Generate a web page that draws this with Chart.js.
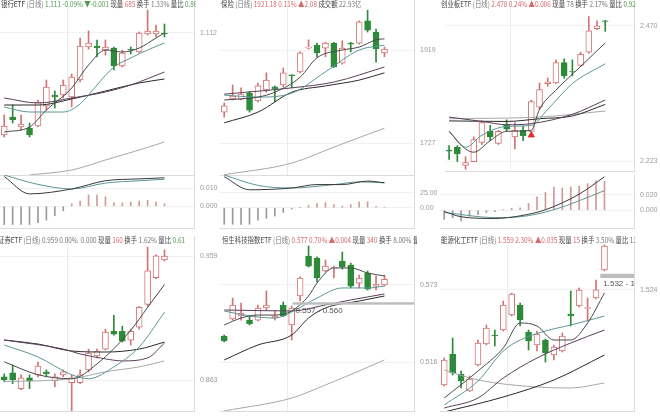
<!DOCTYPE html>
<html>
<head>
<meta charset="utf-8">
<script src="https://cdn.jsdelivr.net/npm/chart.js@4.4.0/dist/chart.umd.min.js"></script>
<style>
body { margin: 0; width: 660px; height: 416px; background: #fff; position: relative; overflow: hidden; font-family: 'Noto Sans CJK SC', sans-serif; }
canvas { position: absolute; }
.title { position: absolute; width: 195px; height: 12px; line-height: 12px; font-size: 8px; overflow: hidden; white-space: nowrap; z-index: 5; }
.title > span { display: inline-block; transform: scaleX(0.8); transform-origin: 0 0; color: #444; }
.n { color: #333; } .g { color: #777; } .r { color: #d46a6a; } .d { color: #4e9a4e; }
</style>
</head>
<body>
<div class="title" style="left:1px;top:-2px"><span><b class="n" style="font-weight:normal">银行ETF</b> <i class="g" style="font-style:normal">(日线)</i> <span class="d">1.111 -0.09%</span> <span class="d">▼-0.001</span> 现量 <span class="r">685</span> 换手 <span class="g">1.33%</span> 量比 <span class="d">0.86</span></span></div>
<div class="title" style="left:221px;top:-2px"><span>保险 <i class="g" style="font-style:normal">(日线)</i> <span class="r">1921.18 0.11%</span> <span class="r">▲2.08</span> 成交额 <span class="g">22.93亿</span></span></div>
<div class="title" style="left:441px;top:-2px"><span>创业板ETF <i class="g" style="font-style:normal">(日线)</i> <span class="r">2.478 0.24%</span> <span class="r">▲0.006</span> 现量 <span class="g">78</span> 换手 <span class="g">2.17%</span> 量比 <span class="d">0.92</span></span></div>
<div class="title" style="left:-2px;top:234px"><span>证券ETF <i class="g" style="font-style:normal">(日线)</i> <span class="g">0.959 0.00%</span> &nbsp;<span class="g">0.000</span> 现量 <span class="r">160</span> 换手 <span class="g">1.62%</span> 量比 <span class="d">0.61</span></span></div>
<div class="title" style="left:222px;top:234px"><span>恒生科技指数ETF <i class="g" style="font-style:normal">(日线)</i> <span class="r">0.577 0.70%</span> <span class="r">▲0.004</span> 现量 <span class="r">340</span> 换手 <span class="g">8.00%</span> 量比</span></div>
<div class="title" style="left:441px;top:234px"><span>能源化工ETF <i class="g" style="font-style:normal">(日线)</i> <span class="r">1.559 2.30%</span> <span class="r">▲0.035</span> 现量 <span class="r">15</span> 换手 <span class="g">3.50%</span> 量比 <span class="g">1.2</span></span></div>

<canvas id="m1" width="220" height="176" style="left:0;top:0"></canvas>
<canvas id="m2" width="220" height="176" style="left:220px;top:0"></canvas>
<canvas id="m3" width="220" height="176" style="left:440px;top:0"></canvas>
<canvas id="s1" width="220" height="62" style="left:0;top:175px"></canvas>
<canvas id="s2" width="220" height="62" style="left:220px;top:175px"></canvas>
<canvas id="s3" width="220" height="62" style="left:440px;top:175px"></canvas>
<canvas id="m4" width="220" height="176" style="left:0;top:236px"></canvas>
<canvas id="m5" width="220" height="176" style="left:220px;top:236px"></canvas>
<canvas id="m6" width="220" height="176" style="left:440px;top:236px"></canvas>

<script>
// 23 slots on the x axis, the last 3 stay empty
const slots = Array.from({length: 23}, (_, i) => i);

// 银行ETF
const bankO = [1.010,1.028,1.018,1.017,1.019,1.039,1.050,1.050,1.048,1.065,1.098,1.099,1.095,1.097,1.079,1.096,1.093,1.111,1.111,1.112];
const bankH = [1.030,1.040,1.030,1.022,1.045,1.065,1.054,1.065,1.071,1.107,1.114,1.105,1.105,1.098,1.095,1.098,1.113,1.135,1.120,1.121];
const bankL = [1.008,1.022,1.015,1.008,1.018,1.035,1.037,1.047,1.038,1.063,1.096,1.088,1.090,1.075,1.078,1.091,1.092,1.110,1.108,1.108];
const bankC = [1.019,1.025,1.021,1.010,1.043,1.058,1.048,1.060,1.068,1.099,1.102,1.097,1.098,1.079,1.092,1.095,1.112,1.114,1.114,1.111];
const bankMA5 = [[0,1.013],[3,1.018],[5,1.035],[8,1.057],[10,1.080],[12,1.095],[14,1.093],[16,1.097],[18,1.107],[19,1.112]];
const bankMA10 = [[0,1.038],[3,1.033],[7,1.033],[9,1.041],[11,1.060],[13,1.078],[15,1.087],[17,1.095],[19,1.102]];
const bankMA20 = [[0,1.047],[4,1.042],[8,1.047],[12,1.053],[15,1.060],[19,1.073]];
const bankMA30 = [[0,1.040],[4,1.040],[8,1.046],[12,1.054],[16,1.062],[19,1.066]];
const bankMA60 = [[3,0.970],[8,0.975],[12,0.985],[16,0.995],[19,1.003]];
const bankDif = [[0,0.0163],[3,0.0068],[8,0.0095],[12,0.0140],[16,0.0150],[19,0.0156]];
const bankDea = [[0,0.0171],[4,0.0120],[8,0.0095],[12,0.0127],[16,0.0140],[19,0.0148]];
const bankHist = [-0.0100,-0.0100,-0.0100,-0.0100,-0.0090,-0.0076,-0.0052,-0.0024,0.0014,0.0029,0.0062,0.0062,0.0052,0.0019,0.0019,0.0024,0.0029,0.0033,0.0024,0.0014];

// 保险
const insO = [1791,1818,1818,1830,1814,1837,1843,1847,1868,1874,1923,1929,1923,1933,1892,1933,1933,1979,1956,1913];
const insH = [1810,1847,1841,1834,1851,1872,1845,1882,1868,1915,1940,1933,1935,1935,1938,1935,1979,2001,1962,1925];
const insL = [1781,1816,1816,1791,1812,1832,1812,1843,1841,1872,1921,1905,1905,1883,1890,1915,1931,1956,1894,1905];
const insC = [1804,1824,1828,1795,1845,1857,1839,1872,1866,1913,1925,1913,1933,1884,1923,1931,1977,1960,1921,1921];
const insMA5 = [[0,1816],[4,1822],[6,1832],[9,1863],[11,1903],[14,1919],[16,1925],[18,1940],[19,1942]];
const insMA10 = [[0,1826],[4,1822],[8,1830],[12,1874],[16,1919],[19,1929]];
const insMA20 = [[0,1828],[8,1841],[13,1853],[19,1884]];
const insMA30 = [[0,1769],[4,1791],[8,1832],[12,1845],[16,1857],[19,1872]];
const insMA60 = [[0,1662],[8,1686],[13,1719],[19,1758]];
const insDif = [[0,52.5],[3,30.4],[8,33.4],[11,39.2],[14,39.2],[17,45.1],[19,42.2]];
const insDea = [[0,55.4],[4,37.8],[8,33.4],[13,39.2],[16,43.7],[19,42.2]];
const insHist = [-28,-28,-28,-28,-21,-18,-14,-8,-2,0.5,4,7,9,5.4,2.5,5.4,10,10,2.5,1];

// 创业板ETF
const cyO = [2.244,2.249,2.216,2.223,2.258,2.278,2.256,2.289,2.268,2.280,2.278,2.322,2.365,2.366,2.403,2.387,2.398,2.422,2.465,2.479];
const cyH = [2.252,2.252,2.232,2.268,2.297,2.289,2.280,2.299,2.294,2.287,2.335,2.366,2.375,2.408,2.410,2.408,2.422,2.487,2.479,2.480];
const cyL = [2.227,2.223,2.209,2.223,2.254,2.261,2.254,2.278,2.246,2.261,2.275,2.318,2.360,2.365,2.375,2.379,2.396,2.420,2.463,2.460];
const cyC = [2.242,2.237,2.221,2.263,2.294,2.268,2.278,2.282,2.280,2.270,2.332,2.354,2.368,2.403,2.379,2.386,2.418,2.461,2.470,2.478];
const cyMA5 = [[0,2.278],[2,2.246],[3,2.240],[5,2.261],[7,2.278],[10,2.280],[11,2.318],[13,2.353],[16,2.396],[19,2.439]];
const cyMA10 = [[0,2.278],[2,2.249],[4,2.271],[7,2.287],[10,2.289],[12,2.318],[15,2.365],[19,2.401]];
const cyMA20 = [[0,2.304],[4,2.296],[7,2.290],[10,2.292],[15,2.309],[19,2.335]];
const cyMA30 = [[0,2.297],[7,2.296],[11,2.301],[15,2.306],[19,2.327]];
const cyMA60 = [[0,2.301],[11,2.304],[19,2.315]];
const cyMark = [[10,2.271]];
const cyDif = [[0,-0.0017],[2,-0.0086],[6,-0.0109],[9,-0.0074],[12,0.0006],[16,0.0211],[19,0.0440]];
const cyDea = [[0,-0.0029],[6,-0.0097],[9,-0.0086],[13,0.0006],[19,0.0257]];
const cyHist = [-0.012,-0.010,-0.014,-0.008,-0.006,-0.003,-0.002,0.0005,0.0025,0.003,0.0089,0.0177,0.0234,0.0303,0.0291,0.0303,0.0318,0.0349,0.0386,0.0379];

// 证券ETF
const zqO = [0.8655,0.8686,0.8563,0.8647,0.8670,0.8693,0.8624,0.8670,0.8609,0.8609,0.8709,0.8816,0.8870,0.9008,0.9008,0.8939,0.9039,0.9216,0.9423,0.9561];
const zqH = [0.8678,0.8747,0.8670,0.8670,0.8770,0.8709,0.8678,0.8709,0.8670,0.8709,0.8870,0.8870,0.9024,0.9131,0.9047,0.9024,0.9200,0.9661,0.9600,0.9638];
const zqL = [0.8617,0.8601,0.8555,0.8563,0.8655,0.8655,0.8578,0.8655,0.8386,0.8601,0.8693,0.8801,0.8862,0.8978,0.8924,0.8901,0.9024,0.9200,0.9415,0.9553];
const zqC = [0.8632,0.8632,0.8647,0.8624,0.8739,0.8678,0.8655,0.8693,0.8647,0.8670,0.8839,0.8855,0.9001,0.8985,0.8932,0.9008,0.9193,0.9477,0.9592,0.9590];
const zqMA5 = [[0,0.8771],[4,0.8671],[8,0.8640],[11,0.8755],[15,0.9016],[17,0.9193],[19,0.9370]];
const zqMA10 = [[0,0.8901],[4,0.8809],[8,0.8671],[10,0.8640],[13,0.8732],[16,0.8886],[19,0.9155]];
const zqMA20 = [[0,0.8940],[7,0.8870],[9,0.8832],[12,0.8794],[14,0.8778],[17,0.8801],[19,0.8917]];
const zqMA30 = [[0,0.8940],[4,0.8909],[8,0.8855],[12,0.8847],[16,0.8870],[19,0.8924]];
const zqMA60 = [[0,0.8617],[8,0.8640],[12,0.8694],[16,0.8732],[19,0.8778]];

// 恒生科技指数ETF
const hkO = [0.5353,0.5478,0.5500,0.5470,0.5470,0.5559,0.5485,0.5581,0.5434,0.5647,0.5941,0.5926,0.5831,0.5853,0.5904,0.5875,0.5742,0.5816,0.5720,0.5728];
const hkH = [0.5360,0.5632,0.5595,0.5500,0.5581,0.5684,0.5537,0.5603,0.5573,0.5787,0.6014,0.5934,0.5912,0.5867,0.5970,0.5889,0.5801,0.5831,0.5794,0.5801];
const hkL = [0.5310,0.5470,0.5470,0.5434,0.5463,0.5544,0.5470,0.5495,0.5323,0.5610,0.5860,0.5750,0.5823,0.5779,0.5845,0.5706,0.5706,0.5691,0.5691,0.5720];
const hkC = [0.5316,0.5581,0.5522,0.5441,0.5559,0.5581,0.5500,0.5500,0.5559,0.5779,0.5867,0.5779,0.5867,0.5860,0.5860,0.5720,0.5779,0.5698,0.5735,0.5770];
const hkMA5 = [[0,0.5434],[2,0.5485],[4,0.5507],[6,0.5507],[8,0.5537],[10,0.5647],[11,0.5742],[13,0.5853],[15,0.5853],[17,0.5816],[19,0.5794]];
const hkMA10 = [[0,0.5537],[3,0.5500],[6,0.5485],[8,0.5529],[11,0.5632],[14,0.5706],[17,0.5706],[19,0.5720]];
const hkMA20 = [[0,0.5544],[8,0.5537],[12,0.5581],[15,0.5618],[19,0.5662]];
const hkMA30 = [[0,0.5177],[4,0.5287],[8,0.5360],[10,0.5485],[12,0.5559],[16,0.5610],[19,0.5647]];
const hkMA60 = [[0,0.4802],[8,0.4897],[12,0.4993],[16,0.5096],[19,0.5177]];
const hkBand = [0.5583, 0.5601];

// 能源化工ETF
const nyO = [1.4478,1.4726,1.4566,1.4430,1.4638,1.4806,1.4878,1.4918,1.5038,1.5118,1.4902,1.4798,1.4838,1.4718,1.4750,1.5046,1.5110,1.5090,1.5174,1.5398];
const nyH = [1.4694,1.4854,1.4590,1.4550,1.4838,1.4958,1.4918,1.5150,1.5214,1.5134,1.4918,1.4910,1.4846,1.4798,1.4894,1.5230,1.5254,1.5174,1.5318,1.5598];
const nyL = [1.4470,1.4558,1.4454,1.4426,1.4630,1.4798,1.4790,1.4910,1.5030,1.4950,1.4758,1.4750,1.4662,1.4678,1.4742,1.4950,1.5102,1.4990,1.5166,1.5390];
const nyC = [1.4678,1.4574,1.4510,1.4526,1.4814,1.4934,1.4870,1.5118,1.5206,1.4998,1.4830,1.4886,1.4734,1.4782,1.4870,1.5030,1.5238,1.5098,1.5240,1.5590];
const nyMA5 = [[0,1.4374],[4,1.4590],[7,1.4774],[9,1.4974],[11,1.4950],[13,1.4838],[15,1.4838],[17,1.4974],[19,1.5214]];
const nyMA10 = [[0,1.4318],[4,1.4510],[7,1.4750],[9,1.4838],[12,1.4910],[15,1.4958],[19,1.5030]];
const nyMA20 = [[0,1.4294],[4,1.4374],[7,1.4534],[11,1.4694],[15,1.4814],[19,1.4918]];
const nyMA30 = [[0,1.4262],[7,1.4382],[13,1.4518],[19,1.4718]];
const nyMA60 = [[0,1.4598],[4,1.4518],[11,1.4462],[15,1.4454],[19,1.4494]];
const nyBand = [1.5334, 1.5368];

const upColor = '#d27474';
const downColor = '#2d8a3a';
const maColors = ['#4a4a4a', '#5d9696', '#5a3f5a', '#2b2b2b', '#a8a8a8'];
const tickFont = { family: "'Liberation Sans Narrow', 'Liberation Sans', sans-serif", size: 7 };

const toPoints = pairs => pairs.map(([x, y]) => ({ x, y }));

// gray price band with its range text
const bandPlugin = {
    id: 'band',
    afterDatasetsDraw(chart, args, opts) {
        if (!opts.range) return;
        const { ctx, chartArea: a, scales: { x, y } } = chart;
        const x0 = x.getPixelForValue(opts.start);
        const yTop = y.getPixelForValue(opts.range[1]);
        const yBot = y.getPixelForValue(opts.range[0]);
        ctx.save();
        ctx.beginPath();
        ctx.rect(a.left, a.top, a.width, a.height);
        ctx.clip();
        ctx.fillStyle = '#bdbdbd';
        ctx.fillRect(x0, yTop, a.right - x0, yBot - yTop);
        ctx.fillStyle = '#555';
        ctx.font = "8px 'Liberation Sans Narrow', 'Liberation Sans', sans-serif";
        ctx.textBaseline = 'top';
        ctx.fillText(opts.text, x0 + 3, yBot + 2);
        ctx.restore();
    }
};

function yAxis(min, max, ticks, digits) {
    return {
        position: 'right',
        min: min,
        max: max,
        afterBuildTicks: ax => { ax.ticks = ticks.map(v => ({ value: v })); },
        afterFit: ax => { ax.width = 26; ax.paddingTop = 0; ax.paddingBottom = 0; },
        ticks: { font: tickFont, color: '#9a9a9a', padding: 6, callback: v => Number(v).toFixed(digits) },
        grid: { color: '#f1f1f1', drawTicks: false },
        border: { color: '#dcdcdc' }
    };
}

function candleChart(id, o, h, l, c, mas, min, max, ticks, digits, extra) {
    extra = extra || {};
    const up = c.map((v, i) => v >= o[i]);
    const datasets = [];
    mas.forEach((pts, k) => {
        datasets.push({
            type: 'line', data: toPoints(pts), borderColor: maColors[k], borderWidth: 1,
            pointRadius: 0, cubicInterpolationMode: 'monotone', order: 0
        });
    });
    datasets.push({
        type: 'bar', data: o.map((v, i) => [v, c[i]]),
        backgroundColor: up.map(u => u ? '#ffffff' : downColor),
        borderColor: up.map(u => u ? upColor : downColor),
        borderWidth: 1, borderSkipped: false, barThickness: 6, grouped: false, order: 1
    });
    datasets.push({
        type: 'bar', data: l.map((v, i) => [v, h[i]]),
        backgroundColor: up.map(u => u ? upColor : downColor),
        barThickness: 1, grouped: false, order: 2
    });
    if (extra.mark) {
        datasets.push({
            type: 'line', data: toPoints(extra.mark), showLine: false, pointStyle: 'triangle',
            pointRadius: 3.5, backgroundColor: '#e03030', borderColor: '#e03030', order: -1
        });
    }
    return new Chart(document.getElementById(id), {
        type: 'bar',
        data: { labels: slots, datasets: datasets },
        plugins: [bandPlugin],
        options: {
            responsive: false, animation: false, events: [],
            layout: { padding: { bottom: 1 } },
            plugins: {
                legend: { display: false }, tooltip: { enabled: false },
                band: extra.band || {}
            },
            scales: {
                x: {
                    offset: true,
                    ticks: { display: false },
                    grid: { drawTicks: false, offset: true, color: ctx => ctx.index === 8 ? '#ececec' : 'rgba(0,0,0,0)' },
                    border: { color: '#dcdcdc' }
                },
                y: yAxis(min, max, ticks, digits)
            }
        }
    });
}

function macdChart(id, dif, dea, hist, min, max, ticks, digits) {
    return new Chart(document.getElementById(id), {
        type: 'bar',
        data: {
            labels: slots,
            datasets: [
                { type: 'line', data: toPoints(dif), borderColor: '#3a3a3a', borderWidth: 1, pointRadius: 0, cubicInterpolationMode: 'monotone', order: 0 },
                { type: 'line', data: toPoints(dea), borderColor: '#5d9696', borderWidth: 1, pointRadius: 0, cubicInterpolationMode: 'monotone', order: 0 },
                { type: 'bar', data: hist, backgroundColor: hist.map(v => v >= 0 ? '#d09a9a' : '#9a9a9a'), barThickness: 1, order: 1 }
            ]
        },
        options: {
            responsive: false, animation: false, events: [],
            layout: { padding: { bottom: 1 } },
            plugins: { legend: { display: false }, tooltip: { enabled: false } },
            scales: {
                x: { offset: true, ticks: { display: false }, grid: { display: false }, border: { color: '#dcdcdc' } },
                y: yAxis(min, max, ticks, digits)
            }
        }
    });
}

candleChart('m1', bankO, bankH, bankL, bankC, [bankMA5, bankMA10, bankMA20, bankMA30, bankMA60], 0.970, 1.145, [1.112], 3);
candleChart('m2', insO, insH, insL, insC, [insMA5, insMA10, insMA20, insMA30, insMA60], 1661.5, 2022, [1919, 1727], 0);
candleChart('m3', cyO, cyH, cyL, cyC, [cyMA5, cyMA10, cyMA20, cyMA30, cyMA60], 2.2058, 2.508, [2.470, 2.223], 3, { mark: cyMark });

macdChart('s1', bankDif, bankDea, bankHist, -0.0119, 0.01714, [0.010, 0], 3);
macdChart('s2', insDif, insDea, insHist, -34.25, 55.4, [25, 0], 2);
macdChart('s3', cyDif, cyDea, cyHist, -0.0234, 0.0463, [0.020, 0], 3);

candleChart('m4', zqO, zqH, zqL, zqC, [zqMA5, zqMA10, zqMA20, zqMA30, zqMA60], 0.8390, 0.9746, [0.959, 0.863], 3);
candleChart('m5', hkO, hkH, hkL, hkC, [hkMA5, hkMA10, hkMA20, hkMA30, hkMA60], 0.48017, 0.60879, [0.573, 0.516], 3,
    { band: { range: hkBand, start: 8.1, text: '0.557 - 0.560' } });
candleChart('m6', nyO, nyH, nyL, nyC, [nyMA5, nyMA10, nyMA20, nyMA30, nyMA60], 1.4270, 1.5670, [1.524], 3,
    { band: { range: nyBand, start: 18.5, text: '1.532 - 1.535' } });
</script>
</body>
</html>
